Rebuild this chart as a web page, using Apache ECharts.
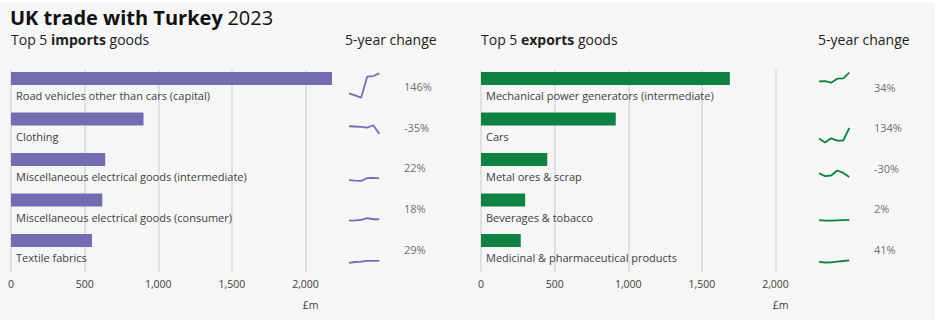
<!DOCTYPE html>
<html><head><meta charset="utf-8">
<script src="https://cdn.jsdelivr.net/npm/echarts@6/dist/echarts.min.js"></script>
<style>html,body{margin:0;padding:0;background:#fff;}#c{width:940px;height:328px;}</style>
</head><body><div id="c"></div>
<script>
// ---- data ----
const years = ['2018', '2019', '2020', '2021', '2022', '2023'];
const importCats = ['Road vehicles other than cars (capital)', 'Clothing', 'Miscellaneous electrical goods (intermediate)', 'Miscellaneous electrical goods (consumer)', 'Textile fabrics'];
const importValues = [2180, 900, 640, 620, 550];
const importPct = ['146%', '-35%', '22%', '18%', '29%'];
const importTrend1 = [888, 750, 605, 1970, 2010, 2180];
const importTrend2 = [1385, 1370, 1340, 1300, 1450, 900];
const importTrend3 = [525, 490, 470, 660, 665, 640];
const importTrend4 = [525, 545, 575, 700, 620, 620];
const importTrend5 = [426, 480, 500, 560, 560, 550];
const exportCats = ['Mechanical power generators (intermediate)', 'Cars', 'Metal ores & scrap', 'Beverages & tobacco', 'Medicinal & pharmaceutical products'];
const exportValues = [1690, 915, 450, 300, 270];
const exportPct = ['34%', '134%', '-30%', '2%', '41%'];
const exportTrend1 = [1261, 1270, 1190, 1390, 1410, 1690];
const exportTrend2 = [391, 190, 400, 285, 290, 915];
const exportTrend3 = [643, 500, 530, 780, 660, 450];
const exportTrend4 = [294, 260, 260, 275, 290, 300];
const exportTrend5 = [191, 160, 170, 205, 235, 270];
const tickInterval = 500;
const tickMax = 2000;

const importTrends = [importTrend1, importTrend2, importTrend3, importTrend4, importTrend5];
const exportTrends = [exportTrend1, exportTrend2, exportTrend3, exportTrend4, exportTrend5];

// ---- styles ----
const FONT = '"Open Sans", "Noto Sans", sans-serif';
const PURPLE = '#746cb1';
const GREEN = '#0f8243';
const TXT = '#414042';
const GREY = '#707071';
const PX = 294.5 / 2000; // px per £m on bar axis

function fmt(v) { return String(v).replace(/\B(?=(\d{3})+(?!\d))/g, ','); }

const grid = [], xAxis = [], yAxis = [], series = [], graphic = [];

graphic.push({ type: 'rect', shape: { x: 0, y: 3, width: 935, height: 317 }, style: { fill: '#f6f6f6' }, z: -100, silent: true });

function panel(x0, cats, values, color, pcts, trends, sparkX, pctX, sparkMax, sparkH, sparkBottom0, sparkStep, pctY0, pctStep) {
  // gridlines + axis labels
  let gi = grid.length;
  grid.push({ left: x0, top: 70, width: 294.5, height: 202 });
  xAxis.push({ type: 'value', gridIndex: gi, min: 0, max: tickMax, interval: tickInterval,
    axisLine: { show: false }, axisTick: { show: false },
    splitLine: { show: true, lineStyle: { color: '#d9d9d9', width: 1.5 } },
    axisLabel: { formatter: fmt, fontSize: 10.5, color: TXT, fontFamily: FONT, margin: 6 } });
  yAxis.push({ type: 'value', gridIndex: gi, min: 0, max: 1, show: false });
  // bars
  gi = grid.length;
  grid.push({ left: x0, top: 58.25, width: 2200 * PX, height: 202.5 });
  xAxis.push({ type: 'value', gridIndex: gi, min: 0, max: 2200, show: false, splitLine: { show: false } });
  yAxis.push({ type: 'category', gridIndex: gi, data: cats, inverse: true, show: false });
  series.push({ type: 'bar', xAxisIndex: gi, yAxisIndex: gi, data: values, barWidth: 13,
    itemStyle: { color: color }, silent: true,
    label: { show: true, formatter: '{b}', position: [5, 23.5], align: 'left', verticalAlign: 'middle',
      fontSize: 11, color: TXT, fontFamily: FONT } });
  // sparklines
  trends.forEach((t, i) => {
    const si = grid.length;
    grid.push({ left: sparkX, top: sparkBottom0 + sparkStep * i - sparkH, width: 30.3, height: sparkH });
    xAxis.push({ type: 'category', gridIndex: si, data: years, boundaryGap: false, show: false });
    yAxis.push({ type: 'value', gridIndex: si, min: 0, max: sparkMax, show: false, splitLine: { show: false } });
    series.push({ type: 'line', xAxisIndex: si, yAxisIndex: si, data: t, symbol: 'none', silent: true,
      lineStyle: { color: color, width: 1.8 } });
    graphic.push({ type: 'text', x: pctX, y: pctY0 + pctStep * i,
      style: { text: pcts[i], fill: GREY, font: '11px ' + FONT, textVerticalAlign: 'middle' } });
  });
  graphic.push({ type: 'text', x: x0 + 307.5, y: 305, style: { text: '£m', fill: TXT, font: '10.5px ' + FONT, textAlign: 'right', textVerticalAlign: 'middle' } });
}

panel(11, importCats, importValues, PURPLE, importPct, importTrends, 349, 404, 2500, 38.5, 107, 40.6, 86.7, 40.6);
panel(481, exportCats, exportValues, GREEN, exportPct, exportTrends, 819, 874, 2000, 40, 106.5, 39.8, 87.3, 40.5);

const sub = { fontSize: 14, lineHeight: 19, color: '#222', fontFamily: FONT, fontWeight: 'normal' };
const subB = Object.assign({}, sub, { fontWeight: 'bold' });
const base = { fontWeight: 'normal', fontFamily: FONT };
const title = [
  { text: '{b|UK trade with Turkey} {n|2023}', left: 10, top: 5, padding: 0,
    textStyle: Object.assign({}, base, { rich: {
      b: { fontSize: 20, lineHeight: 25, fontWeight: 'bold', color: '#111', fontFamily: FONT },
      n: { fontSize: 20, lineHeight: 25, fontWeight: 'normal', color: '#111', fontFamily: FONT } } }) },
  { text: '{n|Top 5 }{b|imports}{n| goods}', left: 11, top: 30, padding: 0,
    textStyle: Object.assign({}, base, { rich: { n: sub, b: subB } }) },
  { text: '{n|5-year change}', left: 345, top: 30, padding: 0, textStyle: Object.assign({}, base, { rich: { n: sub } }) },
  { text: '{n|Top 5 }{b|exports}{n| goods}', left: 481, top: 30, padding: 0,
    textStyle: Object.assign({}, base, { rich: { n: sub, b: subB } }) },
  { text: '{n|5-year change}', left: 818, top: 30, padding: 0, textStyle: Object.assign({}, base, { rich: { n: sub } }) }
];

const chart = echarts.init(document.getElementById('c'), null, { renderer: 'svg' });
chart.setOption({ animation: false, backgroundColor: 'transparent', title, grid, xAxis, yAxis, series, graphic });
</script></body></html>
